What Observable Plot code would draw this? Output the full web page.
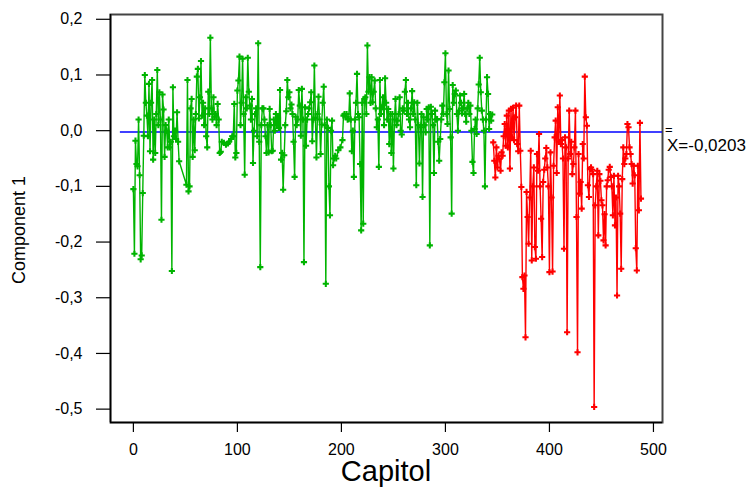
<!DOCTYPE html>
<html>
<head>
<meta charset="utf-8">
<script src="https://cdn.jsdelivr.net/npm/d3@7"></script>
<script src="https://cdn.jsdelivr.net/npm/@observablehq/plot@0.6"></script>
<style>
  html, body { margin: 0; padding: 0; background: #fff; }
  #chart svg { display: block; font-family: "Liberation Sans", Arial, sans-serif; }
</style>
</head>
<body>
<div id="chart"></div>
<script>
// Chapter 0 .. 345 (green), null = no point for that chapter
const greenValues = [
  -0.105, -0.221, -0.018, -0.06, -0.064, 0.02, -0.08, -0.231, -0.224, -0.112,
  -0.009, 0.100, 0.05, 0.027, -0.01, 0.084, -0.037, 0.05, 0.091, -0.052,
  0.02, -0.04, 0.03, 0.109, 0.01, 0.069, 0.02, -0.16, 0.065, 0.038,
  -0.047, 0.01, 0.0, -0.03, 0.02, -0.03, -0.02, -0.252, 0.078, -0.01,
  0.0, -0.015, 0.033, -0.02, -0.055, null, null, null, null, null,
  null, -0.097, 0.091, -0.109, -0.1, 0.04, 0.057, -0.047, 0.02, -0.035,
  0.03, 0.097, 0.111, 0.022, 0.06, 0.125, 0.027, 0.05, 0.01, 0.04,
  -0.01, -0.03, 0.07, 0.03, 0.167, 0.04, 0.02, 0.06, 0.025, 0.03,
  0.01, 0.048, 0.02, -0.04, -0.038, -0.02, null, -0.022, null, -0.025,
  null, -0.023, -0.02, null, -0.015, -0.01, -0.01, 0.048, -0.048, -0.04,
  0.072, 0.09, 0.133, 0.01, 0.05, 0.129, 0.03, -0.079, 0.06, 0.04,
  0.131, 0.07, 0.045, 0.02, 0.057, -0.058, 0.0, 0.03, 0.04, -0.01,
  0.157, -0.02, -0.245, 0.01, 0.04, 0.04, 0.02, -0.01, -0.04, 0.01,
  -0.039, 0.039, 0.01, -0.037, -0.036, 0.02, 0.0, 0.030, 0.01, 0.023,
  0.005, 0.073, -0.052, -0.04, -0.106, -0.044, 0.01, 0.035, 0.091, 0.06,
  0.069, 0.04, 0.047, 0.03, -0.02, -0.083, 0.025, 0.01, 0.02, 0.073,
  0.045, -0.009, 0.075, 0.02, -0.236, 0.042, -0.027, 0.02, 0.03, 0.04,
  0.051, 0.069, -0.019, 0.02, 0.117, 0.023, -0.048, 0.03, 0.061, 0.02,
  -0.042, 0.011, 0.05, 0.079, 0.01, -0.275, 0.02, 0.005, -0.1, -0.152,
  0.0, 0.018, -0.062, -0.05, -0.045, -0.05, null, -0.035, null, -0.03,
  null, -0.017, 0.027, 0.03, 0.025, 0.03, 0.02, 0.021, 0.067, 0.02,
  -0.037, 0.0, -0.083, 0.02, 0.05, 0.102, 0.03, 0.024, -0.06, -0.179,
  0.05, -0.167, 0.057, 0.06, 0.03, 0.153, 0.07, 0.096, 0.05, 0.096,
  0.051, 0.07, 0.09, 0.04, 0.006, 0.02, -0.065, 0.091, 0.03, 0.042,
  0.06, 0.01, 0.094, 0.05, 0.02, 0.039, -0.024, 0.03, -0.04, 0.030,
  -0.068, 0.02, 0.057, 0.01, 0.018, 0.03, 0.06, 0.0, -0.007, 0.04,
  0.036, 0.07, 0.091, 0.03, 0.05, 0.02, 0.006, 0.04, 0.071, 0.03,
  0.051, 0.02, -0.098, 0.05, 0.01, -0.059, 0.006, 0.03, -0.119, 0.024,
  0.01, -0.003, 0.039, 0.02, 0.042, -0.206, 0.043, 0.03, 0.01, -0.076,
  0.036, 0.02, 0.021, -0.02, -0.054, -0.015, 0.02, 0.045, 0.03, 0.087,
  0.139, 0.03, 0.012, 0.108, 0.039, -0.012, -0.149, 0.082, 0.05, 0.066,
  0.072, 0.03, 0.0, 0.036, 0.063, 0.05, 0.031, 0.04, 0.066, 0.03,
  0.016, 0.04, 0.050, 0.03, 0.045, 0.0, -0.056, -0.076, 0.003, 0.02,
  -0.006, 0.04, 0.083, 0.131, 0.069, 0.036, 0.02, 0.0, -0.100, 0.02,
  0.096, 0.066, 0.003, 0.03, 0.018, 0.029
];
const redStart = 346;
// Chapter 346 .. 488 (red)
const redValues = [
  -0.021, -0.054, -0.084, -0.030, -0.066, -0.045, -0.051, -0.072, -0.039, -0.045,
  -0.01, 0.012, -0.027, 0.027, -0.030, 0.036, -0.068, 0.039, -0.012, 0.041,
  -0.017, 0.024, 0.045, -0.024, -0.037, 0.045, -0.036, -0.101, -0.263, -0.284,
  -0.260, -0.371, -0.110, -0.155, -0.203, -0.12, -0.036, -0.233, -0.1, -0.066,
  -0.209, -0.230, -0.042, -0.072, -0.006, -0.1, -0.158, -0.227, -0.092, -0.07,
  -0.05, -0.031, -0.066, -0.1, -0.254, -0.039, -0.12, -0.253, -0.063, -0.012,
  0.018, -0.076, 0.042, -0.02, 0.063, -0.024, -0.017, -0.05, -0.212, -0.012,
  -0.03, -0.362, -0.05, 0.036, -0.042, -0.02, -0.078, -0.06, -0.03, 0.036,
  -0.155, -0.398, -0.042, -0.113, -0.092, -0.140, -0.024, -0.05, 0.097, 0.024,
  0.009, -0.098, -0.119, -0.069, -0.066, -0.07, -0.078, -0.496, -0.134, -0.1,
  -0.072, -0.188, -0.078, -0.09, -0.125, -0.134, -0.197, -0.15, -0.206, -0.1,
  -0.089, -0.07, -0.065, -0.083, -0.1, -0.152, -0.081, -0.17, -0.12, -0.296,
  -0.081, -0.1, -0.149, -0.248, -0.087, -0.030, -0.06, -0.05, -0.042, 0.012,
  0.006, -0.03, -0.042, -0.06, -0.095, -0.063, -0.08, -0.211, -0.251, -0.063,
  -0.143, 0.014, -0.122
];
const centerLineValue = -0.0025;      // drawn position of the centre line
const centerLineLabel = "X=-0,0203";
const xTicks = [0, 100, 200, 300, 400, 500];
const yTicks = [0.2, 0.1, 0.0, -0.1, -0.2, -0.3, -0.4, -0.5];
const xDomain = [-22, 508.7];
const yDomain = [-0.524, 0.2086];
const centerLineStart = -12.5;

const green = greenValues.map((v, i) => ({chapter: i, value: v})).filter(d => d.value !== null);
const red = redValues.map((v, i) => ({chapter: redStart + i, value: v}));
const fmt = d => d.toFixed(1).replace(".", ",").replace("-0,0", "0,0");

const GREEN = "#00b400", RED = "#ff0000";

const chart = Plot.plot({
  width: 747,
  height: 487,
  marginLeft: 110,
  marginRight: 85,
  marginTop: 14,
  marginBottom: 65,
  style: {background: "#fff", color: "#000", fontFamily: '"Liberation Sans", Arial, sans-serif', fontSize: "16px"},
  x: {domain: xDomain},
  y: {domain: yDomain},
  marks: [
    Plot.frame({stroke: "#444", strokeWidth: 2}),
    Plot.ruleY([centerLineValue], {x1: centerLineStart, x2: xDomain[1], stroke: "#0000ff", strokeWidth: 1.5}),
    Plot.line(green, {x: "chapter", y: "value", stroke: GREEN, strokeWidth: 1.4}),
    Plot.dot(green, {x: "chapter", y: "value", fill: GREEN, symbol: "cross", r: 2.6}),
    Plot.line(red, {x: "chapter", y: "value", stroke: RED, strokeWidth: 1.4}),
    Plot.dot(red, {x: "chapter", y: "value", fill: RED, symbol: "cross", r: 2.6}),
    Plot.ruleX([xDomain[0]], {stroke: "#000", strokeWidth: 1.5}),
    Plot.ruleY([yDomain[0]], {stroke: "#000", strokeWidth: 1.5}),
    Plot.axisY(yTicks, {tickSize: 14, tickPadding: 14, tickFormat: fmt, fontSize: 16, label: null, stroke: "#000", strokeWidth: 1.2}),
    Plot.axisX(xTicks, {tickSize: 10, tickPadding: 11, tickFormat: d => String(d), fontSize: 16, label: null, stroke: "#000", strokeWidth: 1.2})
  ]
});
document.getElementById("chart").appendChild(chart);

const svg = d3.select(chart);
svg.append("text")
  .attr("x", 386).attr("y", 481)
  .attr("text-anchor", "middle")
  .attr("font-size", 29)
  .attr("fill", "#000")
  .text("Capitol");
svg.append("text")
  .attr("transform", "translate(25,230) rotate(-90)")
  .attr("text-anchor", "middle")
  .attr("font-size", 18)
  .attr("fill", "#000")
  .text("Component 1");
svg.append("text")
  .attr("x", 665).attr("y", 134)
  .attr("text-anchor", "start")
  .attr("font-size", 13)
  .attr("fill", "#000")
  .text("=");
svg.append("text")
  .attr("x", 667).attr("y", 151)
  .attr("text-anchor", "start")
  .attr("font-size", 17)
  .attr("fill", "#000")
  .text(centerLineLabel);
</script>
</body>
</html>
